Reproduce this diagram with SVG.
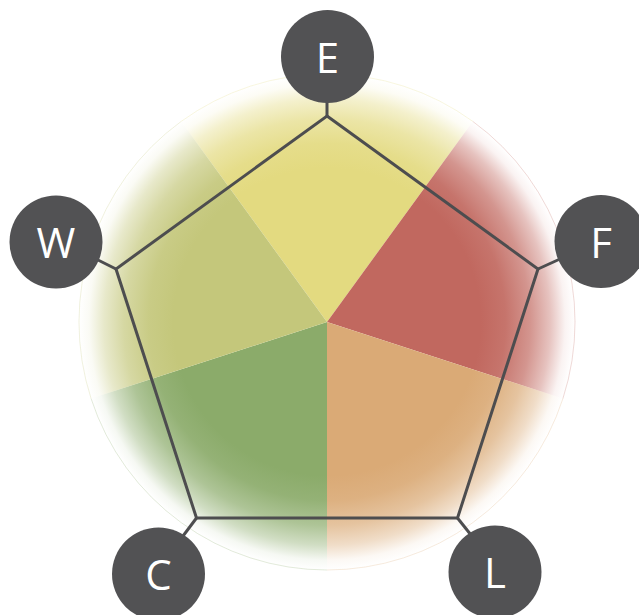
<svg xmlns="http://www.w3.org/2000/svg" width="639" height="615" viewBox="0 0 639 615">
<style>
.node circle{fill:#525254}
.node text{fill:#ffffff;font-family:"Open Sans","Liberation Sans",sans-serif;font-size:42px;text-anchor:middle}
.edge{stroke:#4d4d4f;stroke-width:3;fill:none;stroke-linejoin:miter}
.rim{fill:none;stroke-width:1;stroke-opacity:0.25}
</style>
<defs>
<radialGradient id="gE" gradientUnits="userSpaceOnUse" cx="327" cy="322" r="248">
<stop offset="0" stop-color="#E3DA80"/><stop offset="0.62" stop-color="#E3DA80"/><stop offset="0.72" stop-color="#E3DA80" stop-opacity="0.92"/><stop offset="0.82" stop-color="#E3DA80" stop-opacity="0.7"/><stop offset="0.9" stop-color="#E3DA80" stop-opacity="0.4"/><stop offset="0.96" stop-color="#E3DA80" stop-opacity="0.08"/><stop offset="1" stop-color="#E3DA80" stop-opacity="0"/></radialGradient>
<radialGradient id="gF" gradientUnits="userSpaceOnUse" cx="327" cy="322" r="248">
<stop offset="0" stop-color="#C1685F"/><stop offset="0.62" stop-color="#C1685F"/><stop offset="0.72" stop-color="#C1685F" stop-opacity="0.92"/><stop offset="0.82" stop-color="#C1685F" stop-opacity="0.7"/><stop offset="0.9" stop-color="#C1685F" stop-opacity="0.4"/><stop offset="0.96" stop-color="#C1685F" stop-opacity="0.08"/><stop offset="1" stop-color="#C1685F" stop-opacity="0"/></radialGradient>
<radialGradient id="gL" gradientUnits="userSpaceOnUse" cx="327" cy="322" r="248">
<stop offset="0" stop-color="#DAAA76"/><stop offset="0.62" stop-color="#DAAA76"/><stop offset="0.72" stop-color="#DAAA76" stop-opacity="0.92"/><stop offset="0.82" stop-color="#DAAA76" stop-opacity="0.7"/><stop offset="0.9" stop-color="#DAAA76" stop-opacity="0.4"/><stop offset="0.96" stop-color="#DAAA76" stop-opacity="0.08"/><stop offset="1" stop-color="#DAAA76" stop-opacity="0"/></radialGradient>
<radialGradient id="gC" gradientUnits="userSpaceOnUse" cx="327" cy="322" r="248">
<stop offset="0" stop-color="#8BAB6A"/><stop offset="0.62" stop-color="#8BAB6A"/><stop offset="0.72" stop-color="#8BAB6A" stop-opacity="0.92"/><stop offset="0.82" stop-color="#8BAB6A" stop-opacity="0.7"/><stop offset="0.9" stop-color="#8BAB6A" stop-opacity="0.4"/><stop offset="0.96" stop-color="#8BAB6A" stop-opacity="0.08"/><stop offset="1" stop-color="#8BAB6A" stop-opacity="0"/></radialGradient>
<radialGradient id="gW" gradientUnits="userSpaceOnUse" cx="327" cy="322" r="248">
<stop offset="0" stop-color="#C4C77B"/><stop offset="0.62" stop-color="#C4C77B"/><stop offset="0.72" stop-color="#C4C77B" stop-opacity="0.92"/><stop offset="0.82" stop-color="#C4C77B" stop-opacity="0.7"/><stop offset="0.9" stop-color="#C4C77B" stop-opacity="0.4"/><stop offset="0.96" stop-color="#C4C77B" stop-opacity="0.08"/><stop offset="1" stop-color="#C4C77B" stop-opacity="0"/></radialGradient>
</defs>
<g id="sectors">
<path d="M327,322 L181.2,121.4 A248,248 0 0 1 472.8,121.4 Z" fill="url(#gE)"/>
<path d="M327,322 L472.8,121.4 A248,248 0 0 1 562.9,398.6 Z" fill="url(#gF)"/>
<path d="M327,322 L562.9,398.6 A248,248 0 0 1 327,570 Z" fill="url(#gL)"/>
<path d="M327,322 L327,570 A248,248 0 0 1 91.1,398.6 Z" fill="url(#gC)"/>
<path d="M327,322 L91.1,398.6 A248,248 0 0 1 181.2,121.4 Z" fill="url(#gW)"/>
<path class="rim" stroke="#E3DA80" d="M181.2,121.4 A248,248 0 0 1 472.8,121.4"/>
<path class="rim" stroke="#C1685F" d="M472.8,121.4 A248,248 0 0 1 562.9,398.6"/>
<path class="rim" stroke="#DAAA76" d="M562.9,398.6 A248,248 0 0 1 327,570"/>
<path class="rim" stroke="#8BAB6A" d="M327,570 A248,248 0 0 1 91.1,398.6"/>
<path class="rim" stroke="#C4C77B" d="M91.1,398.6 A248,248 0 0 1 181.2,121.4"/>
</g>
<g id="connectors">
<polygon class="edge" points="327,116 538,269 457.5,518 196.5,518 116,269"/>
<line class="edge" x1="327" y1="116" x2="327" y2="100"/>
<line class="edge" x1="538" y1="269" x2="560" y2="259"/>
<line class="edge" x1="457.5" y1="518" x2="475" y2="540"/>
<line class="edge" x1="196.5" y1="518" x2="180" y2="540"/>
<line class="edge" x1="116" y1="269" x2="96" y2="259"/>
</g>
<g id="E" class="node"><circle cx="327.5" cy="56.5" r="46.5"/><text x="327.5" y="73">E</text></g>
<g id="F" class="node"><circle cx="601" cy="241.5" r="46.5"/><text x="601" y="258">F</text></g>
<g id="L" class="node"><circle cx="495" cy="572" r="46.5"/><text x="495" y="588">L</text></g>
<g id="C" class="node"><circle cx="158.5" cy="574" r="46.5"/><text x="158.5" y="590">C</text></g>
<g id="W" class="node"><circle cx="56" cy="242" r="46.5"/><text x="56" y="258">W</text></g>
</svg>
